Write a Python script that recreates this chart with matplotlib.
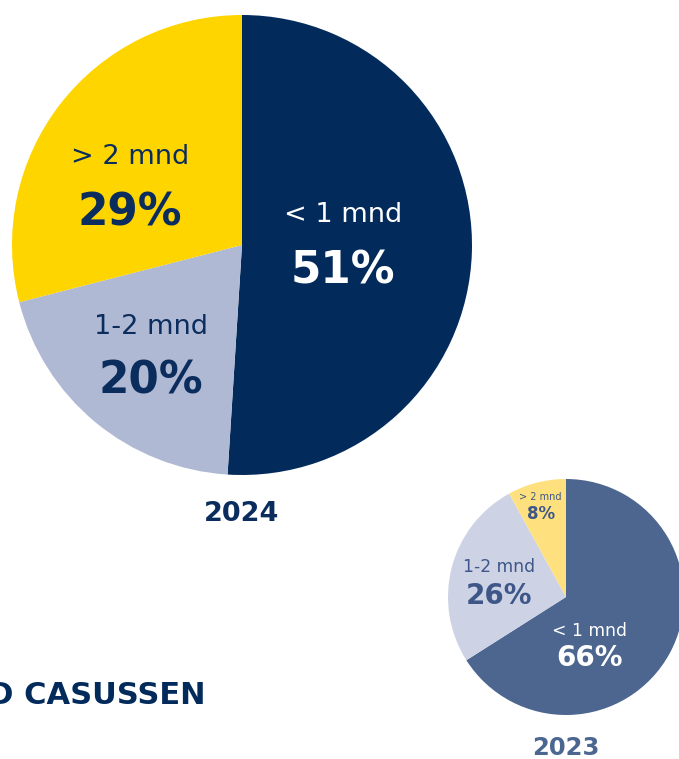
import matplotlib.pyplot as plt

# Doorlooptijd casussen (share of cases per duration bucket)
categories = ["< 1 mnd", "1-2 mnd", "> 2 mnd"]
share_2024 = [51, 20, 29]
share_2023 = [66, 26, 8]

colors_2024 = ["#022b5c", "#b0b9d3", "#ffd500"]
colors_2023 = ["#4c6690", "#cdd3e5", "#fee17e"]

W, H = 679, 759

fig = plt.figure(figsize=(W / 100, H / 100), dpi=100)
ax = fig.add_axes([0, 0, 1, 1])

def py(y):
    # image pixel row -> data y
    return H - y

# big pie 2024
ax.pie(share_2024, colors=colors_2024, startangle=90, counterclock=False,
       center=(242, py(245)), radius=230, wedgeprops=dict(linewidth=0))
# small pie 2023
ax.pie(share_2023, colors=colors_2023, startangle=90, counterclock=False,
       center=(566, py(597)), radius=118, wedgeprops=dict(linewidth=0))

ax.set_xlim(0, W)
ax.set_ylim(0, H)
ax.set_aspect("equal")
ax.axis("off")

# labels for 2024 (name position, value position, colour)
lab24 = [((343, 215), (343, 271), "white"),
         ((151, 327), (151, 381), "#0b2d5e"),
         ((130, 157), (130, 213), "#0b2d5e")]
for (cat, v, (p1, p2, c)) in zip(categories, share_2024, lab24):
    ax.text(p1[0], py(p1[1]), cat, ha="center", va="center", color=c, fontsize=19.5)
    ax.text(p2[0], py(p2[1]), f"{v}%", ha="center", va="center", color=c,
            fontsize=31.5, fontweight="bold")

lab23 = [((589, 631), (589, 658), "white", 12.3, 20),
         ((499, 567), (499, 596), "#3e5788", 12.3, 20),
         ((540, 497), (541, 514), "#3e5788", 7, 12)]
for (cat, v, (p1, p2, c, s1, s2)) in zip(categories, share_2023, lab23):
    ax.text(p1[0], py(p1[1]), cat, ha="center", va="center", color=c, fontsize=s1)
    ax.text(p2[0], py(p2[1]), f"{v}%", ha="center", va="center", color=c,
            fontsize=s2, fontweight="bold")

ax.text(242, py(514), "2024", ha="center", va="center", color="#0b2d5e",
        fontsize=19.5, fontweight="bold")
ax.text(566, py(748), "2023", ha="center", va="center", color="#4a6691",
        fontsize=17.5, fontweight="bold")
ax.text(205, py(695), "DOORLOOPTIJD CASUSSEN", ha="right", va="center",
        color="#022b5c", fontsize=22, fontweight="bold")

fig.savefig("out.png", dpi=100)
